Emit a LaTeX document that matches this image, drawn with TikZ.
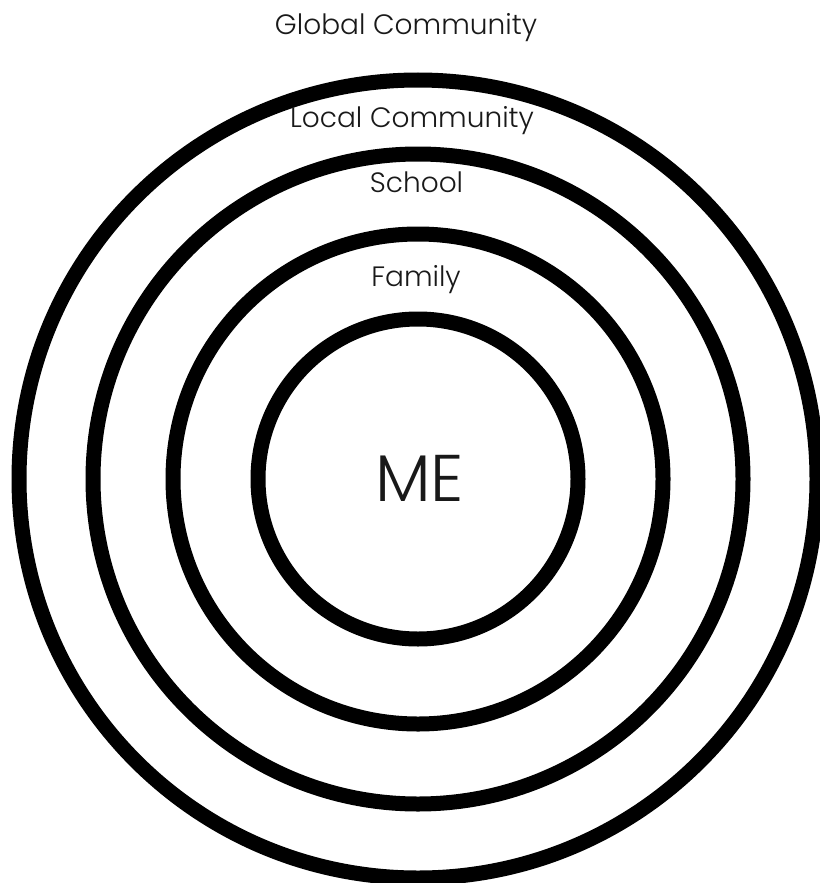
\documentclass[tikz,border=0pt]{standalone}
\usepackage{fontspec}
\IfFontExistsTF{Poppins Light}{\setmainfont{Poppins Light}}{\setmainfont{Poppins}}
\begin{document}
\begin{tikzpicture}[x=1pt,y=-1pt,
  ring/.style={draw=black,line width=15pt,circle,inner sep=0pt,minimum size=#1},
  lbl/.style={anchor=base,inner sep=0pt,font=\fontsize{28}{30}\selectfont,text=black!90}]
\useasboundingbox (0,0) rectangle (819,883);
\fill[white] (0,0) rectangle (819,883);
\node[ring=798pt] (global) at (418,479) {};
\node[ring=650pt] (local) at (418,479) {};
\node[ring=490pt] (school) at (418,479) {};
\node[ring=320pt,font=\fontsize{66}{70}\selectfont] (me) at (418,479) {};
\node[lbl] (tglobal) at (406,35) {Global Community};
\node[lbl] (tlocal) at (412,127) {Local Community};
\node[lbl] (tschool) at (416.5,192) {School};
\node[lbl] (tfamily) at (416,286) {Family};
\node[lbl,font=\fontsize{66}{70}\selectfont] (tme) at (419.5,501) {ME};
\end{tikzpicture}
\end{document}
